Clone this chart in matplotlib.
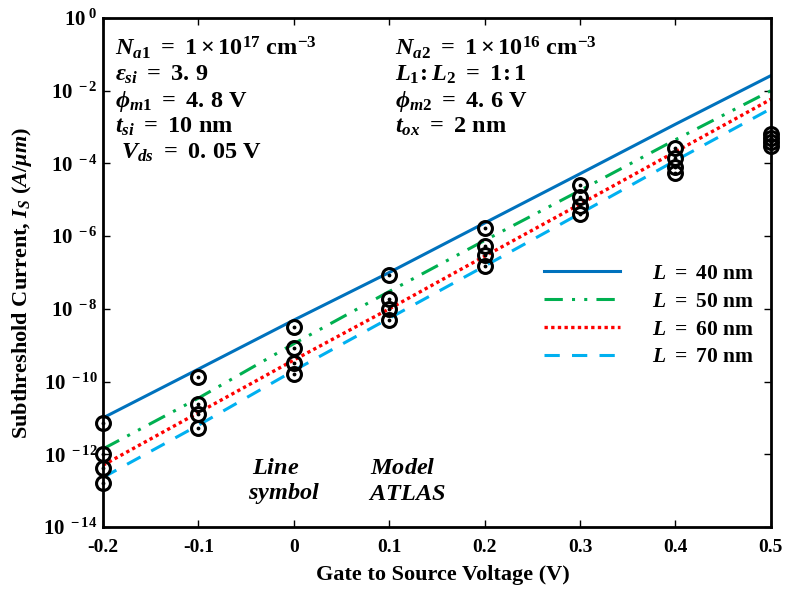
import matplotlib
matplotlib.use("Agg")
import matplotlib.pyplot as plt
import numpy as np

plt.rcParams['font.family'] = ['Liberation Serif', 'DejaVu Serif']
plt.rcParams['font.weight'] = 'bold'
plt.rcParams['mathtext.fontset'] = 'custom'
plt.rcParams['mathtext.rm'] = 'Liberation Serif:bold'
plt.rcParams['mathtext.it'] = 'Liberation Serif:italic:bold'
plt.rcParams['mathtext.bf'] = 'Liberation Serif:bold'

# ---- data ----
vgs = [-0.2, -0.1, 0.0, 0.1, 0.2, 0.3, 0.4, 0.5]

model_L40 = [1.0e-11, 2.2e-10, 4.9e-9, 1.0e-7, 2.3e-6, 5.2e-5, 1.2e-3, 2.6e-2]
model_L50 = [1.4e-12, 3.5e-11, 1.1e-9, 3.0e-8, 7.6e-7, 1.8e-5, 4.5e-4, 1.0e-2]
model_L60 = [5.0e-13, 1.4e-11, 3.9e-10, 1.0e-8, 2.8e-7, 7.6e-6, 2.1e-4, 5.8e-3]
model_L70 = [2.3e-13, 6.3e-12, 2.0e-10, 5.5e-9, 1.5e-7, 4.2e-6, 1.2e-4, 3.2e-3]

atlas_L40 = [7.2e-12, 1.3e-10, 3.1e-9, 8.3e-8, 1.7e-6, 2.5e-5, 2.6e-4, 6.6e-4]
atlas_L50 = [1.0e-12, 2.4e-11, 8.3e-10, 1.9e-8, 5.2e-7, 1.2e-5, 1.4e-4, 4.9e-4]
atlas_L60 = [4.2e-13, 1.3e-11, 3.2e-10, 9.8e-9, 3.0e-7, 6.6e-6, 7.8e-5, 3.8e-4]
atlas_L70 = [1.6e-13, 5.2e-12, 1.6e-10, 4.9e-9, 1.5e-7, 4.0e-6, 5.4e-5, 3.0e-4]

legend_labels = [r'$L\ =\ 40\ \mathrm{nm}$', r'$L\ =\ 50\ \mathrm{nm}$',
                 r'$L\ =\ 60\ \mathrm{nm}$', r'$L\ =\ 70\ \mathrm{nm}$']
xtick_vals = [-0.2, -0.1, 0, 0.1, 0.2, 0.3, 0.4, 0.5]
xtick_labels = ['-0.2', '-0.1', '0', '0.1', '0.2', '0.3', '0.4', '0.5']
ytick_exps = [0, -2, -4, -6, -8, -10, -12, -14]

# ---- figure ----
fig = plt.figure(figsize=(7.89, 5.89), dpi=100)
ax = fig.add_axes([0.1305, 0.1053, 0.977 - 0.1305, 0.9694 - 0.1053])

styles = [
    dict(color='#0072BD', ls='-', lw=2.2),
    dict(color='#00B050', ls=(0, (6, 3, 1, 3, 1, 3)), lw=2.2),
    dict(color='#FF0000', ls=(0, (1, 1)), lw=2.4),
    dict(color='#00B0F0', ls=(0, (5, 4)), lw=2.2),
]
models = [model_L40, model_L50, model_L60, model_L70]
atlas = [atlas_L40, atlas_L50, atlas_L60, atlas_L70]

handles = []
for m, st, lab in zip(models, styles, legend_labels):
    h, = ax.plot(vgs, m, label=lab, **st)
    handles.append(h)

for a in atlas:
    ax.plot(vgs, a, 'o', ms=10, mfc='none', mec='black', mew=2.2,
            clip_on=False, zorder=5)
    ax.plot(vgs, a, '.', ms=3.5, color='black', clip_on=False, zorder=6)

ax.set_yscale('log')
ax.set_xlim(-0.2, 0.5)
ax.set_ylim(1e-14, 1e0)
ax.set_xticks(xtick_vals)
ax.set_xticklabels(xtick_labels, fontsize=14, fontweight='bold')
ax.set_yticks([10.0 ** e for e in ytick_exps])
ax.set_yticklabels([r'$\mathbf{10^{\ %d}}$' % e for e in ytick_exps], fontsize=15)
ax.yaxis.set_minor_locator(matplotlib.ticker.NullLocator())
ax.tick_params(direction='in', length=5, width=1, top=True, right=True)
ax.tick_params(axis='x', pad=9)
ax.tick_params(axis='y', pad=4)
for sp in ax.spines.values():
    sp.set_linewidth(2)

ax.set_xlabel('Gate to Source Voltage (V)', fontsize=16, fontweight='bold')
ax.xaxis.set_label_coords(0.509, -0.074)
ax.set_ylabel(r'Subthreshold Current, $I_S\ (A/\mu m)$', fontsize=16,
              fontweight='bold')
ax.yaxis.set_label_coords(-0.104, 0.479)

leg = ax.legend(handles=handles, loc='upper left', bbox_to_anchor=(0.632, 0.555),
                frameon=False, fontsize=15.5, handlelength=3.5, handletextpad=1.5,
                labelspacing=0.36)

fs = 17.5
left_txt = [r'$N_{a1}\ =\ 1\times10^{17}\ \mathrm{cm}^{-3}$',
            r'$\varepsilon_{si}\ =\ 3.\,9$',
            r'$\phi_{m1}\ =\ 4.\,8\ \mathrm{V}$',
            r'$t_{si}\ =\ 10\ \mathrm{nm}$',
            r'$\ V_{ds}\ =\ 0.\,05\ \mathrm{V}$']
right_txt = [r'$N_{a2}\ =\ 1\times10^{16}\ \mathrm{cm}^{-3}$',
             r'$L_1\!:L_2\ =\ 1\!:1$',
             r'$\phi_{m2}\ =\ 4.\,6\ \mathrm{V}$',
             r'$t_{ox}\ =\ 2\ \mathrm{nm}$']
ys = [48, 75, 101, 127, 153]
for t, y in zip(left_txt, ys):
    fig.text(115 / 789, 1 - y / 589, t, fontsize=fs, va='center', ha='left')
for t, y in zip(right_txt, ys):
    fig.text(395 / 789, 1 - y / 589, t, fontsize=fs, va='center', ha='left')

fig.text(252 / 789, 1 - 468 / 589, r'$Line$', fontsize=fs, va='center', ha='left')
fig.text(248 / 789, 1 - 494 / 589, r'$symbol$', fontsize=fs, va='center', ha='left')
fig.text(370 / 789, 1 - 468 / 589, r'$Model$', fontsize=fs, va='center', ha='left')
fig.text(368 / 789, 1 - 494 / 589, r'$ATLAS$', fontsize=fs, va='center', ha='left')

fig.savefig('out.png', dpi=100)
